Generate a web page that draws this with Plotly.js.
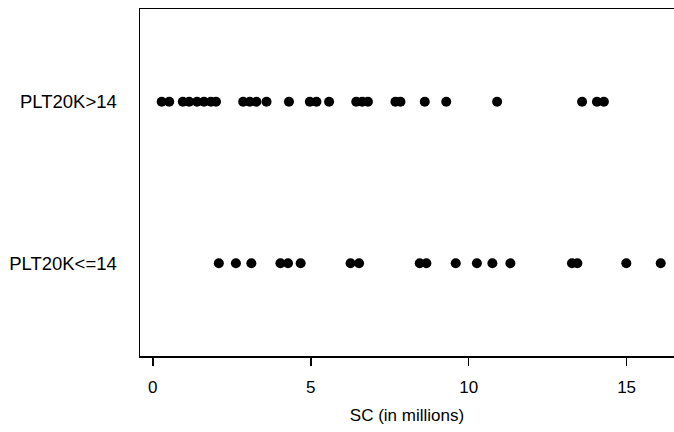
<!DOCTYPE html>
<html>
<head>
<meta charset="utf-8">
<script src="https://cdn.plot.ly/plotly-3.0.1.min.js"></script>
<style>html,body{margin:0;padding:0;background:#fff;}#chart{width:674px;height:432px;}</style>
</head>
<body>
<div id="chart"></div>
<script>
// Categories (bottom to top)
const categories = ['PLT20K<=14', 'PLT20K>14'];

// SC values (in millions) for each group
const scHigh = [0.28, 0.52, 0.95, 1.15, 1.4, 1.62, 1.84, 2.0, 2.86, 3.07, 3.28, 3.6, 4.31, 4.97, 5.18, 5.58,
                6.44, 6.63, 6.81, 7.68, 7.84, 8.61, 9.29, 10.9, 13.59, 14.06, 14.28];
const scLow = [2.09, 2.63, 3.12, 4.04, 4.28, 4.68, 6.26, 6.53, 8.45, 8.66, 9.59, 10.26, 10.75, 11.32,
               13.27, 13.44, 14.99, 16.08];

const xTicks = [0, 5, 10, 15];
const xTitle = 'SC (in millions)';

const traces = [
  {x: scLow, y: scLow.map(() => categories[0])},
  {x: scHigh, y: scHigh.map(() => categories[1])}
].map(t => Object.assign(t, {
  type: 'scatter', mode: 'markers',
  marker: {color: '#000', size: 10},
  hoverinfo: 'x', showlegend: false
}));

const font = {family: 'Liberation Sans, Arial, sans-serif', color: '#000'};

const layout = {
  width: 674, height: 432,
  margin: {l: 140, r: 0, t: 9, b: 76},
  paper_bgcolor: '#fff', plot_bgcolor: '#fff',
  font: Object.assign({size: 17}, font),
  xaxis: {
    range: [-0.406, 16.5],
    tickvals: xTicks, ticktext: xTicks.map(String),
    ticks: 'outside', ticklen: 8, tickwidth: 1.5, tickcolor: '#000',
    ticklabelstandoff: 7,
    showgrid: false, zeroline: false,
    showline: true, linecolor: '#000', linewidth: 1.5, mirror: true,
    tickfont: Object.assign({size: 17}, font),
    title: {text: xTitle, font: Object.assign({size: 17}, font), standoff: 13}
  },
  yaxis: {
    type: 'category',
    categoryorder: 'array', categoryarray: categories,
    range: [-0.574, 1.574],
    ticks: '', showgrid: false, zeroline: false,
    showline: true, linecolor: '#000', linewidth: 1.5,
    ticklabelstandoff: 18,
    tickfont: Object.assign({size: 18.5}, font)
  }
};

Plotly.newPlot('chart', traces, layout, {displayModeBar: false, staticPlot: true});
</script>
</body>
</html>
